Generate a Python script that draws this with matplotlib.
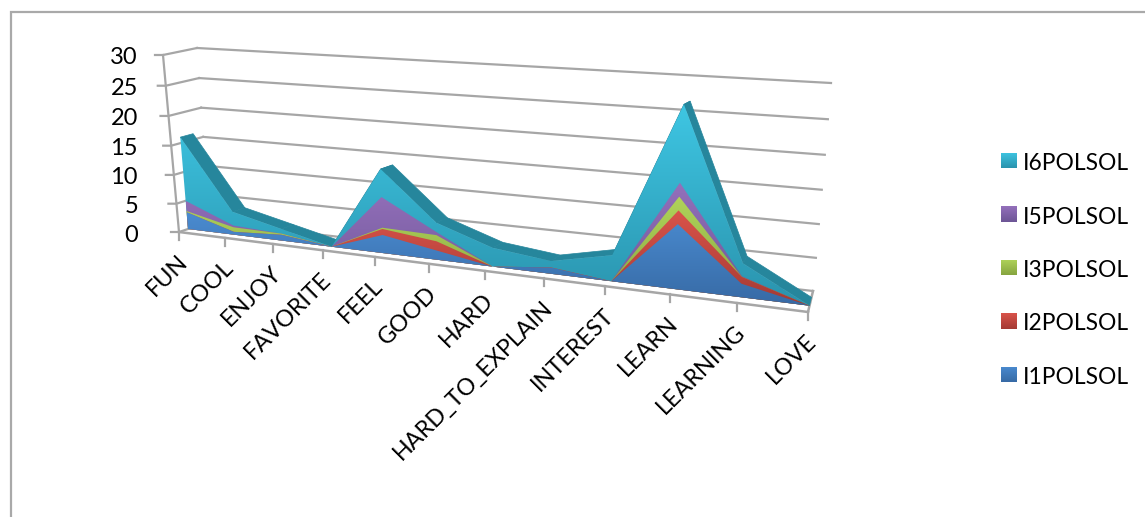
import numpy as np
import matplotlib
matplotlib.use("Agg")
import matplotlib.pyplot as plt
import matplotlib.transforms as mtrans
from matplotlib.patches import Polygon

W, H = 1145, 517

CATEGORIES = ["FUN", "COOL", "ENJOY", "FAVORITE", "FEEL", "GOOD", "HARD",
              "HARD_TO_EXPLAIN", "INTEREST", "LEARN", "LEARNING", "LOVE"]
I1POLSOL = [3, 0.5, 1, 0, 3, 1.5, 0, 1, 0, 9.7, 2, 0]
I2POLSOL = [0, 0, 0, 0, 1, 1.5, 0, 0, 0, 2, 1, 0]
I3POLSOL = [0.2, 0.8, 0.2, 0, 0.2, 1, 0, 0, 0, 2, 0, 0]
I5POLSOL = [1.8, 0.3, 0, 0, 5, 0.5, 0, 0, 0, 2, 0.1, 0]
I6POLSOL = [11, 2.4, 0.8, 0, 4.5, 1.5, 3, 1, 4, 11, 1.9, 0]
SERIES = ["I1POLSOL", "I2POLSOL", "I3POLSOL", "I5POLSOL", "I6POLSOL"]
VALUES = [I1POLSOL, I2POLSOL, I3POLSOL, I5POLSOL, I6POLSOL]
YTICKS = [0, 5, 10, 15, 20, 25, 30]

# gradient ends (top, bottom) for each series
GRADS = {
    "I1POLSOL": ("#4a8bd0", "#376aa5"),
    "I2POLSOL": ("#d9534a", "#a43a34"),
    "I3POLSOL": ("#b0d45a", "#86a440"),
    "I5POLSOL": ("#9470bb", "#6c5595"),
    "I6POLSOL": ("#3ec6e3", "#2a93ad"),
}
GRAY = "#a6a6a6"
TOP_FACE = "#26869c"
FONT = "Lato"

# corners of the chart box in picture pixels: (cat, value) at front and back
FRONT = [(179, 232), (808, 312), (828, 90), (163, 55)]
BACK = [(209, 222), (813, 291), (831, 83), (197, 48)]
MAX_CAT, MAX_VAL = len(CATEGORIES) - 1, YTICKS[-1]


class Plane(mtrans.Transform):
    """(category index, value) -> picture pixels, on a slice through the 3D box."""
    input_dims = 2
    output_dims = 2
    is_separable = False

    def __init__(self, depth):
        super().__init__()
        front, back = np.array(FRONT, float), np.array(BACK, float)
        dst = front + (back - front) * depth
        src = [(0, 0), (MAX_CAT, 0), (MAX_CAT, MAX_VAL), (0, MAX_VAL)]
        A, b = [], []
        for (x, y), (u, v) in zip(src, dst):
            A.append([x, y, 1, 0, 0, 0, -u * x, -u * y])
            A.append([0, 0, 0, x, y, 1, -v * x, -v * y])
            b += [u, v]
        self.h = np.append(np.linalg.solve(np.array(A), np.array(b)), 1).reshape(3, 3)

    def transform_non_affine(self, values):
        values = np.asarray(values, float)
        p = np.column_stack([values, np.ones(len(values))]) @ self.h.T
        return p[:, :2] / p[:, 2:]


def gradient_fill(ax, poly_pts, colors, zorder):
    poly = Polygon(poly_pts, closed=True, facecolor="none", edgecolor="none",
                   transform=ax.transData, zorder=zorder)
    ax.add_patch(poly)
    cmap = matplotlib.colors.LinearSegmentedColormap.from_list("g", colors)
    x0, y0 = poly_pts.min(axis=0)
    x1, y1 = poly_pts.max(axis=0)
    im = ax.imshow(np.linspace(0, 1, 128).reshape(-1, 1), cmap=cmap, aspect="auto",
                   extent=(x0, x1, y1, y0), zorder=zorder, interpolation="bilinear")
    im.set_clip_path(poly)


def main():
    fig = plt.figure(figsize=(W / 100, H / 100), dpi=100, facecolor="white")
    ax = fig.add_axes([0, 0, 1, 1])
    ax.set_autoscale_on(False)
    ax.set_xlim(0, W)
    ax.set_ylim(H, 0)
    ax.axis("off")

    # outer frame of the chart
    ax.plot([11, 11, W], [H, 12, 12], color="#a9a9a9", lw=1.6, solid_joinstyle="miter")

    front, back = Plane(0), Plane(1)
    area_front, area_back = Plane(0.3), Plane(0.7)
    cats = np.arange(len(CATEGORIES))

    # walls and value grid
    for v in YTICKS:
        ax.plot([0, MAX_CAT], [v, v], transform=back + ax.transData, color=GRAY, lw=1.6)
        a = front.transform(np.array([[0, v]]))[0]
        b = back.transform(np.array([[0, v]]))[0]
        ax.plot([a[0] - 8, a[0], b[0]], [a[1], a[1], b[1]], color=GRAY, lw=1.6)
        # labels sit in one right-aligned column, not along the slanted axis
        ax.text(150 - 12, a[1] + 3, str(v), ha="right", va="center", fontsize=17,
                family=FONT, color="black")
    ax.plot([0, 0], [0, MAX_VAL], transform=front + ax.transData, color=GRAY, lw=1.6)

    # floor edges
    ax.plot([0, MAX_CAT], [0, 0], transform=front + ax.transData, color=GRAY, lw=1.8, zorder=2)
    r0 = front.transform(np.array([[MAX_CAT, 0]]))[0]
    r1 = back.transform(np.array([[MAX_CAT, 0]]))[0]
    ax.plot([r0[0], r1[0]], [r0[1], r1[1]], color=GRAY, lw=1.8, zorder=2)

    # stacked areas
    tops = np.cumsum(np.array(VALUES, float), axis=0)
    total = tops[-1]
    f_top = area_front.transform(np.column_stack([cats, total]))
    b_top = area_back.transform(np.column_stack([cats, total]))
    for i in range(len(cats) - 1):
        quad = [f_top[i], f_top[i + 1], b_top[i + 1], b_top[i]]
        ax.add_patch(Polygon(quad, closed=True, facecolor=TOP_FACE, edgecolor=TOP_FACE,
                             lw=0.5, zorder=3))
    for k in range(len(SERIES) - 1, -1, -1):
        pts = np.vstack([np.column_stack([cats, tops[k]]),
                         np.column_stack([cats[::-1], np.zeros(len(cats))])])
        gradient_fill(ax, area_front.transform(pts), GRADS[SERIES[k]], 4 + (len(SERIES) - k) * 0.1)

    # category ticks and labels
    for i, name in enumerate(CATEGORIES):
        p = front.transform(np.array([[i, 0]]))[0]
        ax.plot([p[0], p[0]], [p[1], p[1] + 8], color=GRAY, lw=1.6, zorder=2)
        ax.annotate(name, xy=(i, 0), xycoords=front + ax.transData, xytext=(5, -26),
                    textcoords="offset pixels", rotation=45, rotation_mode="anchor",
                    ha="right", va="center", fontsize=16.8, family=FONT, color="black")

    # legend, top entry first
    for k, name in enumerate(SERIES[::-1]):
        yc = 160.5 + k * 53.5
        box = np.array([[1001, yc - 8], [1017, yc - 8], [1017, yc + 8], [1001, yc + 8]], float)
        gradient_fill(ax, box, GRADS[name], 6)
        ax.text(1023, yc + 3, name, ha="left", va="center", fontsize=16.4,
                family=FONT, color="black")

    ax.set_xlim(0, W)
    ax.set_ylim(H, 0)
    fig.savefig("out.png", dpi=100)
    plt.close(fig)


if __name__ == "__main__":
    main()
